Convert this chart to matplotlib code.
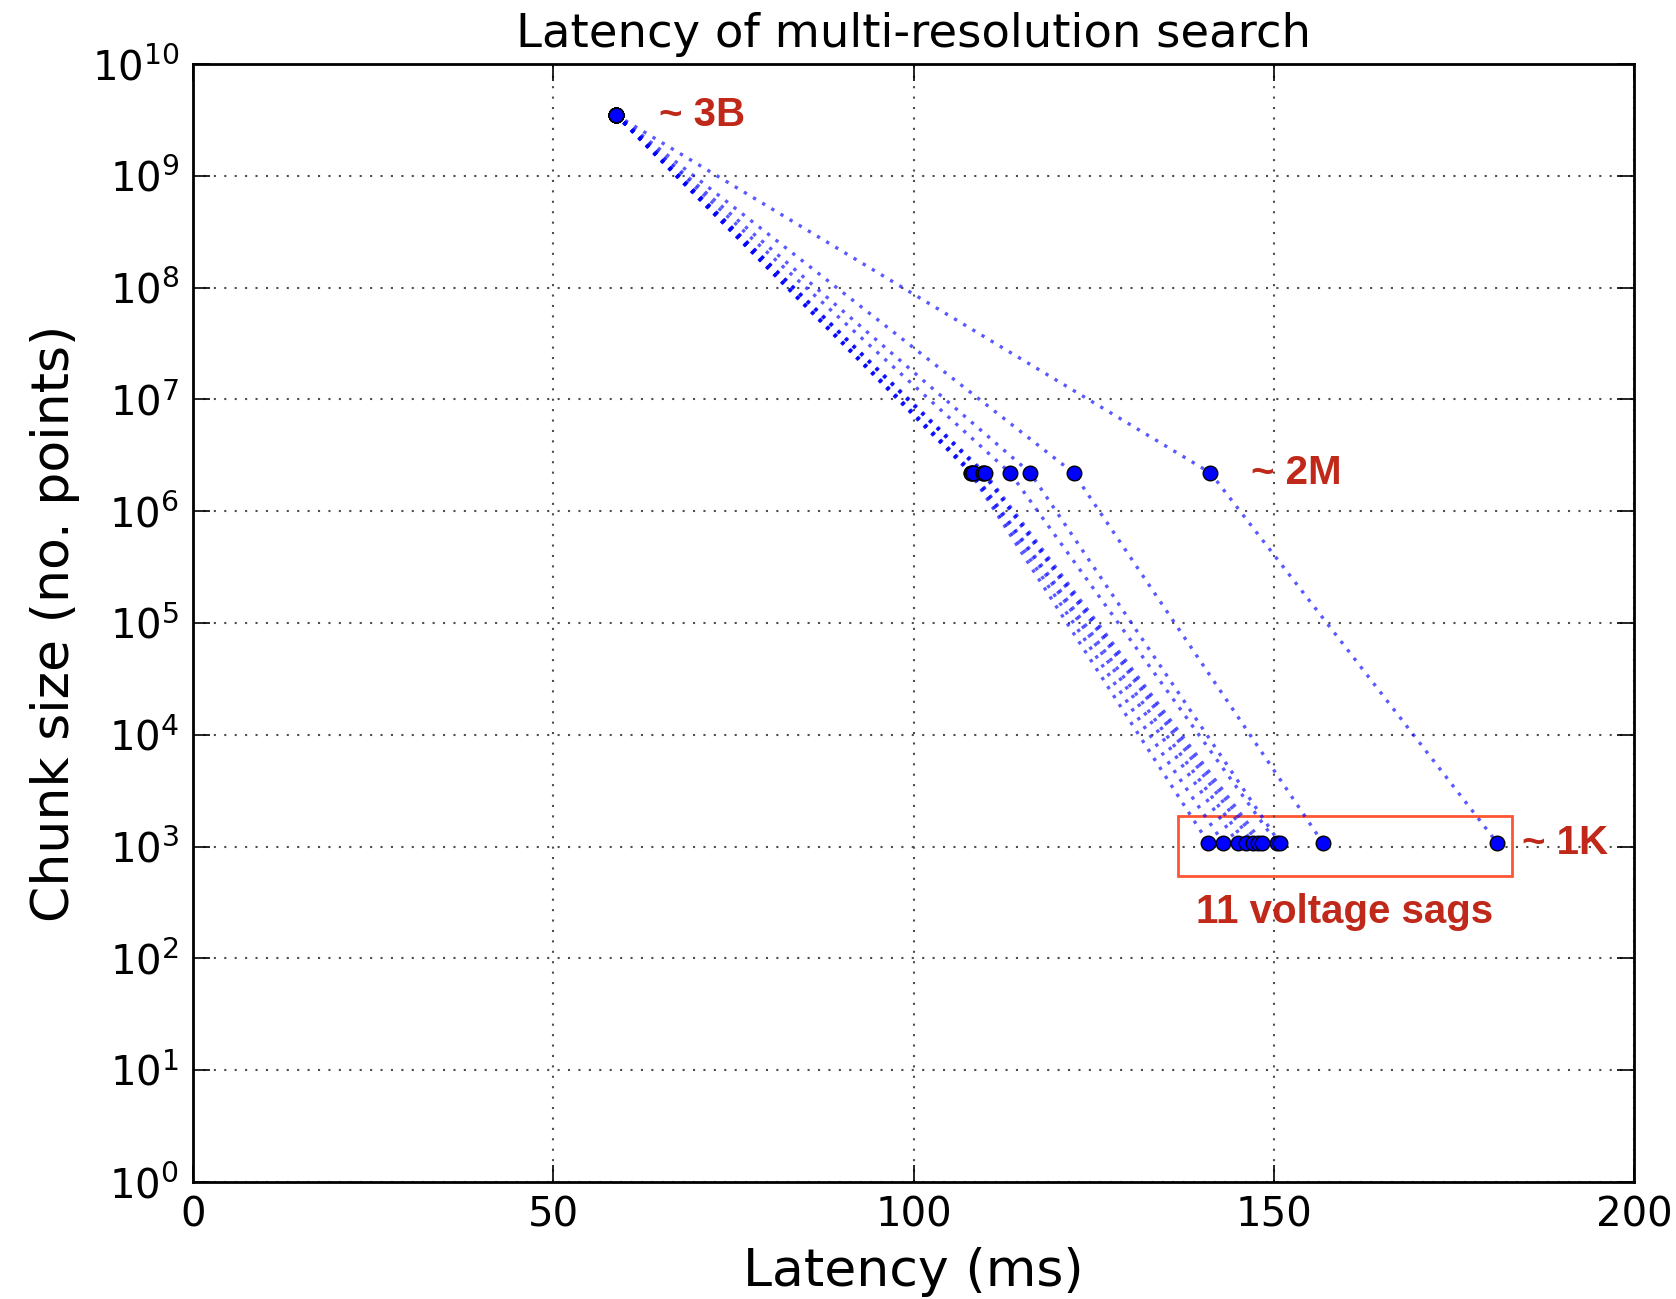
import numpy as np
import matplotlib
matplotlib.use("Agg")
import matplotlib.pyplot as plt
from matplotlib.patches import Rectangle

# chunk sizes at each resolution level (no. points)
levels = [3.5e9, 2.2e6, 1.08e3]

# latency (ms) of each of the 11 voltage sags at each level
start_lat = [58.7] * 11
mid_lat = [107.9, 108.0, 108.2, 108.3, 109.6, 109.7, 109.9, 113.4, 116.2, 122.2, 141.2]
end_lat = [140.9, 143.0, 145.0, 146.1, 147.1, 147.8, 148.4, 150.4, 150.8, 156.8, 181.0]

labels = ["~ 3B", "~ 2M", "~ 1K"]

fig = plt.figure(figsize=(16.76, 12.99), dpi=100)
ax = fig.add_axes([0.1152, 0.0901, 0.975 - 0.1152, 0.9507 - 0.0901])

for s, m, e in zip(start_lat, mid_lat, end_lat):
    ax.plot([s, m, e], levels, color="b", lw=2.4, alpha=0.65, dashes=(1, 2.2))

for s, m, e in zip(start_lat, mid_lat, end_lat):
    ax.plot([s, m, e], levels, "o", color="b", mec="k", mew=1, ms=10.5, linestyle="none")

ax.set_yscale("log")
ax.set_xlim(0, 200)
ax.set_ylim(1e0, 1e10)
ax.set_xticks([0, 50, 100, 150, 200])
ax.set_yticks([10.0 ** k for k in range(11)])

ax.grid(True, which="major", color="0.3", linewidth=1.5, dashes=(1, 4))
ax.tick_params(which="both", direction="in", top=True, right=True, labelsize=29, width=1.2)
ax.tick_params(which="major", length=12, pad=10)
ax.tick_params(which="minor", length=6)
for sp in ax.spines.values():
    sp.set_linewidth(2)

ax.set_title("Latency of multi-resolution search", fontsize=33.5, pad=12)
ax.set_xlabel("Latency (ms)", fontsize=37.5, labelpad=8)
ax.set_ylabel("Chunk size (no. points)", fontsize=37.5, labelpad=8)

red = "#c0281a"
ann = dict(color=red, fontsize=29, fontweight="bold", family="Liberation Sans", va="center")
ax.text(64.7, 3.5e9, labels[0], **ann)
ax.text(146.8, 2.2e6, labels[1], **ann)
ax.text(184.5, 1.08e3, labels[2], **ann)
ax.text(139.2, 2.6e2, "11 voltage sags", **ann)

ax.add_patch(Rectangle((136.7, 546), 183.1 - 136.7, 1880 - 546,
                       fill=False, edgecolor="#ff5533", linewidth=2))

fig.savefig("out.png", dpi=100)
